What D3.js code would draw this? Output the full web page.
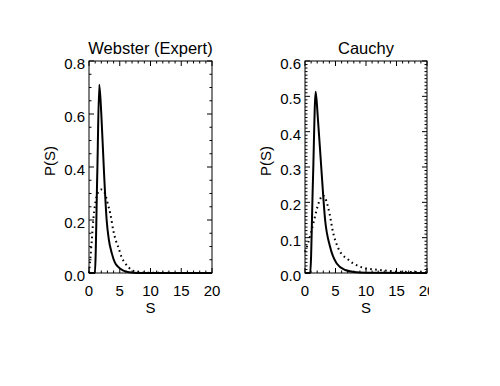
<!DOCTYPE html>
<html><head><meta charset="utf-8">
<script src="https://cdn.jsdelivr.net/npm/d3@7"></script>
<style>body{margin:0;background:#fff}svg{display:block}text{font-family:"Liberation Sans",Arial,sans-serif;fill:#000}</style>
</head><body><svg id="c" width="500" height="386"></svg>
<script>
// ---- data ----
const titles = ["Webster (Expert)", "Cauchy"];
const xTicks = [0, 5, 10, 15, 20];
const yTicksWebster = [0.0, 0.2, 0.4, 0.6, 0.8];
const yTicksCauchy = [0.0, 0.1, 0.2, 0.3, 0.4, 0.5, 0.6];
const yTickLabelsWebster = ["0.0", "0.2", "0.4", "0.6", "0.8"];
const yTickLabelsCauchy = ["0.0", "0.1", "0.2", "0.3", "0.4", "0.5", "0.6"];

const websterSolidS = [0, 0.95, 1.35, 1.67, 2.0, 2.44, 2.87, 3.2, 3.7, 4.2, 4.7, 5.5, 6.5, 8, 20];
const websterSolidP = [0, 0, 0.38, 0.71, 0.6, 0.38, 0.2, 0.13, 0.075, 0.04, 0.024, 0.01, 0.003, 0, 0];
const websterDotS = [0, 0.2, 0.44, 0.7, 1.0, 1.5, 2.0, 2.5, 3.1, 3.5, 3.95, 4.4, 4.8, 5.3, 5.85, 6.5, 7, 8, 10, 20];
const websterDotP = [0, 0.05, 0.12, 0.2, 0.26, 0.305, 0.315, 0.305, 0.257, 0.22, 0.16, 0.12, 0.095, 0.06, 0.038, 0.02, 0.01, 0.004, 0.001, 0];

const cauchySolidS = [0, 0.85, 1.3, 1.75, 2.1, 2.7, 3.3, 4.1, 5.2, 6.6, 8, 10, 20];
const cauchySolidP = [0, 0, 0.26, 0.513, 0.44, 0.29, 0.15, 0.075, 0.027, 0.0085, 0.003, 0.001, 0];
const cauchyDotS = [0, 0.5, 1.0, 1.5, 2.0, 2.5, 2.9, 3.3, 4.0, 4.6, 5.4, 6.2, 6.8, 7.9, 9, 10, 12, 13.4, 15, 17, 20];
const cauchyDotP = [0.06, 0.085, 0.115, 0.15, 0.185, 0.21, 0.22, 0.212, 0.17, 0.115, 0.072, 0.05, 0.042, 0.027, 0.018, 0.013, 0.009, 0.0066, 0.004, 0.003, 0.002];

const panels = [
  {title: titles[0], x0: 89, x1: 212, yMax: 0.8, yTicks: yTicksWebster, yLabels: yTickLabelsWebster, yMinor: 4,
   solid: websterSolidS.map((s, i) => [s, websterSolidP[i]]), dot: websterDotS.map((s, i) => [s, websterDotP[i]]), clipRight: null},
  {title: titles[1], x0: 305, x1: 427, yMax: 0.6, yTicks: yTicksCauchy, yLabels: yTickLabelsCauchy, yMinor: 10,
   solid: cauchySolidS.map((s, i) => [s, cauchySolidP[i]]), dot: cauchyDotS.map((s, i) => [s, cauchyDotP[i]]), clipRight: 429}
];

const svg = d3.select("#c");
const plotTop = 61, plotBottom = 273;
const defs = svg.append("defs");

panels.forEach((p, pi) => {
  const x = d3.scaleLinear().domain([0, 20]).range([p.x0, p.x1]);
  const y = d3.scaleLinear().domain([0, p.yMax]).range([plotBottom, plotTop]);
  const g = svg.append("g");

  g.append("rect").attr("x", p.x0).attr("y", plotTop).attr("width", p.x1 - p.x0).attr("height", plotBottom - plotTop)
    .attr("fill", "none").attr("stroke", "#000").attr("stroke-width", 1);

  const xMinor = d3.range(0, 20.001, 1);
  const yStep = (p.yTicks[1] - p.yTicks[0]) / p.yMinor;
  const yMinor = d3.range(0, p.yMax + 1e-9, yStep);
  const tk = g.append("g").attr("stroke", "#000").attr("stroke-width", 1);
  xMinor.forEach(v => {
    const major = Math.abs(v / 5 - Math.round(v / 5)) < 1e-6;
    const L = major ? 5 : 2.5;
    tk.append("line").attr("x1", x(v)).attr("x2", x(v)).attr("y1", plotBottom).attr("y2", plotBottom - L);
    tk.append("line").attr("x1", x(v)).attr("x2", x(v)).attr("y1", plotTop).attr("y2", plotTop + L);
  });
  yMinor.forEach((v, i) => {
    const major = i % p.yMinor === 0;
    const L = major ? 5 : 2.5;
    tk.append("line").attr("x1", p.x0).attr("x2", p.x0 + L).attr("y1", y(v)).attr("y2", y(v));
    tk.append("line").attr("x1", p.x1).attr("x2", p.x1 - L).attr("y1", y(v)).attr("y2", y(v));
  });

  let lblG = g.append("g");
  if (p.clipRight) {
    defs.append("clipPath").attr("id", "clip" + pi).append("rect").attr("x", 0).attr("y", 0).attr("width", p.clipRight).attr("height", 386);
    lblG.attr("clip-path", "url(#clip" + pi + ")");
  }
  xTicks.forEach(v => {
    lblG.append("text").attr("x", x(v)).attr("y", 296).attr("text-anchor", "middle").attr("font-size", 15).text(v);
  });
  p.yTicks.forEach((v, i) => {
    g.append("text").attr("x", p.x0 - 4).attr("y", y(v) + 8).attr("text-anchor", "end").attr("font-size", 15).text(p.yLabels[i]);
  });
  g.append("text").attr("x", (p.x0 + p.x1) / 2).attr("y", 313).attr("text-anchor", "middle").attr("font-size", 15).text("S");
  g.append("text").attr("transform", `translate(${p.x0 - 34},${(plotTop + plotBottom) / 2 - 6}) rotate(-90)`)
    .attr("text-anchor", "middle").attr("font-size", 15).text("P(S)");
  g.append("text").attr("x", (p.x0 + p.x1) / 2).attr("y", 54).attr("text-anchor", "middle").attr("font-size", 16.5).text(p.title);

  const line = d3.line().x(d => x(d[0])).y(d => y(d[1])).curve(d3.curveMonotoneX);
  g.append("path").datum(p.dot).attr("d", line).attr("fill", "none").attr("stroke", "#000")
    .attr("stroke-width", 2).attr("stroke-dasharray", "1.6,3.4");
  g.append("path").datum(p.solid).attr("d", line).attr("fill", "none").attr("stroke", "#000")
    .attr("stroke-width", 2);
});
</script></body></html>
